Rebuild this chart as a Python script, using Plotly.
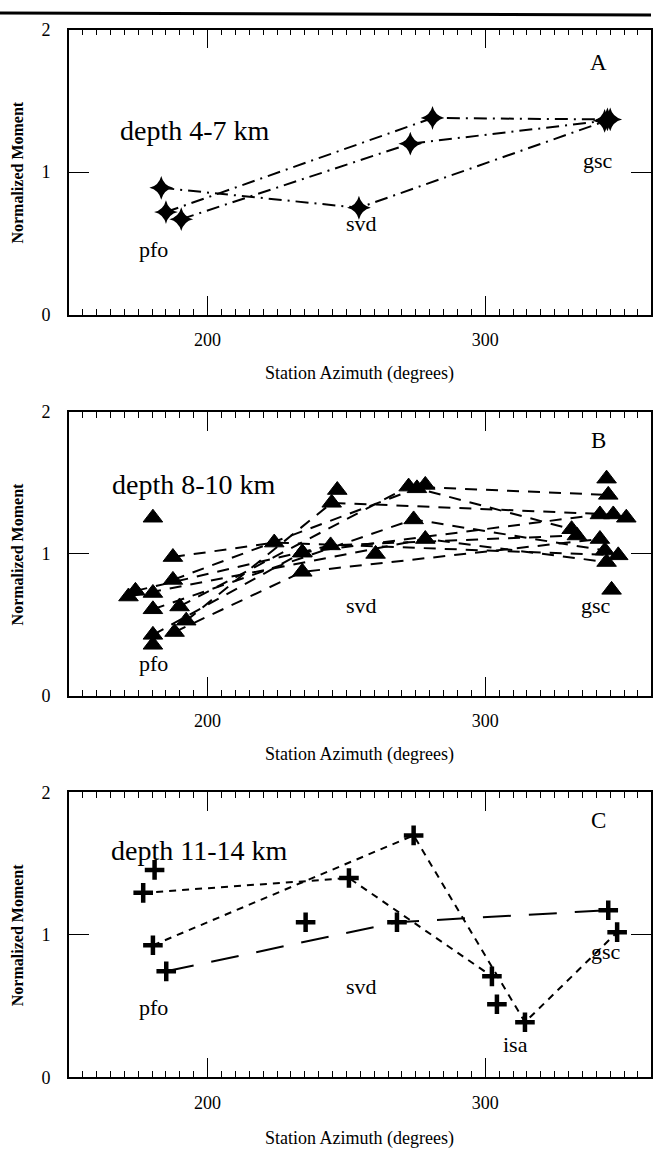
import plotly.graph_objects as go

W, H = 653, 1157
FONT = "Liberation Serif, Times New Roman, serif"

# ---------------- data ----------------
# Panel A (depth 4-7 km): three events, stations pfo / svd-ish / gsc
a_azimuth = [
    [183.3, 254.5, 345.0],
    [185.0, 281.0, 344.0],
    [190.5, 273.0, 343.0],
]
a_moment = [
    [0.89, 0.75, 1.37],
    [0.72, 1.38, 1.37],
    [0.67, 1.20, 1.36],
]

# Panel B (depth 8-10 km): connected events
b_azimuth = [
    [188.1, 234.1, 341.3],
    [192.3, 244.7, 346.1],
    [189.9, 272.4, 344.3],
    [187.5, 275.4, 331.1],
    [180.3, 274.2, 343.1],
    [174.0, 244.3, 333.0],
    [187.5, 224.0, 347.9],
    [180.3, 234.1, 341.3],
    [171.5, 278.4, 343.7],
]
b_moment = [
    [0.45, 0.874, 1.105],
    [0.53, 1.36, 1.278],
    [0.63, 1.474, 1.416],
    [0.817, 1.462, 1.174],
    [0.61, 1.243, 1.024],
    [0.74, 1.06, 1.13],
    [0.978, 1.08, 0.99],
    [0.43, 1.01, 1.278],
    [0.70, 1.105, 0.943],
]
# Panel B isolated measurements
b_single_azimuth = [180.3, 180.3, 180.3, 246.7, 260.5, 278.4, 343.7, 350.8, 345.5, 234.1]
b_single_moment = [1.255, 0.36, 0.725, 1.45, 1.00, 1.486, 1.53, 1.255, 0.747, 1.01]

# Panel C (depth 11-14 km)
c_long_azimuth = [185.1, 268.2, 344.3]
c_long_moment = [0.743, 1.088, 1.172]
c_short_azimuth = [
    [176.8, 250.9, 302.4],
    [180.3, 274.2, 314.3, 347.5],
]
c_short_moment = [
    [1.294, 1.398, 0.708],
    [0.926, 1.697, 0.386, 1.018],
]
c_single_azimuth = [180.9, 235.3, 304.2]
c_single_moment = [1.455, 1.088, 0.512]

x_ticks = [200, 300]
y_ticks = [0, 1, 2]

# ---------------- figure ----------------
fig = go.Figure()

star = dict(symbol="star-diamond", size=17, color="black", line=dict(width=0))
tri = dict(symbol="triangle-up", size=17, color="black", line=dict(width=1, color="black"))
plus = dict(symbol="cross-thin", size=14, color="black", line=dict(width=4.5, color="black"))

for xs, ys in zip(a_azimuth, a_moment):
    fig.add_trace(go.Scatter(x=xs, y=ys, mode="lines+markers", xaxis="x", yaxis="y",
                             line=dict(color="black", width=2, dash="13px,6px,2px,6px"),
                             marker=star, showlegend=False))

for xs, ys in zip(b_azimuth, b_moment):
    fig.add_trace(go.Scatter(x=xs, y=ys, mode="lines+markers", xaxis="x2", yaxis="y2",
                             line=dict(color="black", width=2, dash="12px,9px"),
                             marker=tri, showlegend=False))
fig.add_trace(go.Scatter(x=b_single_azimuth, y=b_single_moment, mode="markers",
                         xaxis="x2", yaxis="y2", marker=tri, showlegend=False))

fig.add_trace(go.Scatter(x=c_long_azimuth, y=c_long_moment, mode="lines+markers",
                         xaxis="x3", yaxis="y3",
                         line=dict(color="black", width=2, dash="28px,18px"),
                         marker=plus, showlegend=False))
for xs, ys in zip(c_short_azimuth, c_short_moment):
    fig.add_trace(go.Scatter(x=xs, y=ys, mode="lines+markers", xaxis="x3", yaxis="y3",
                             line=dict(color="black", width=2, dash="7px,6px"),
                             marker=plus, showlegend=False))
fig.add_trace(go.Scatter(x=c_single_azimuth, y=c_single_moment, mode="markers",
                         xaxis="x3", yaxis="y3", marker=plus, showlegend=False))

# ---------------- axes ----------------
panels = [(20, 310), (409, 698), (796, 1086)]
x_dom = [69 / W, 1.0]
x_range = [150, 150 + (W - 69) / 2.785]

layout = dict(
    width=W, height=H,
    margin=dict(l=0, r=0, t=0, b=0),
    paper_bgcolor="white", plot_bgcolor="white",
    font=dict(family=FONT, color="black"),
    showlegend=False,
)

for i, (top, bot) in enumerate(panels):
    sfx = "" if i == 0 else str(i + 1)
    layout["xaxis" + sfx] = dict(
        domain=x_dom, range=x_range, anchor="y" + sfx,
        showline=True, linecolor="black", linewidth=1.5, mirror="allticks",
        ticks="inside", ticklen=19, tickwidth=1.3, tickcolor="black",
        tickmode="array", tickvals=x_ticks, ticktext=[str(v) for v in x_ticks],
        tickfont=dict(size=18, family=FONT), ticklabelstandoff=8,
        minor=dict(ticks="inside", ticklen=6, tickwidth=1, tickcolor="black",
                   tickmode="linear", tick0=150, dtick=5),
        showgrid=False, zeroline=False, fixedrange=True,
    )
    layout["yaxis" + sfx] = dict(
        domain=[(H - bot) / H, (H - top) / H], range=[0, 2], anchor="x" + sfx,
        showline=True, linecolor="black", linewidth=1.5, mirror="allticks",
        ticks="inside", ticklen=20, tickwidth=1.3, tickcolor="black",
        tickmode="array", tickvals=y_ticks, ticktext=[str(v) for v in y_ticks],
        tickfont=dict(size=18, family=FONT), ticklabelstandoff=13,
        showgrid=False, zeroline=False, fixedrange=True,
    )

fig.update_layout(**layout)

# ---------------- annotations ----------------
ann = []
def txt(text, x, y, xref, yref, size, angle=0):
    ann.append(dict(text=text, x=x, y=y, xref=xref, yref=yref, showarrow=False,
                    xanchor="center", yanchor="middle", textangle=angle,
                    font=dict(family=FONT, size=size, color="black")))

x_title_y = [370, 758, 1148]
for i, (top, bot) in enumerate(panels):
    txt("Station Azimuth (degrees)", (69 + W) / 2 / W, 1 - x_title_y[i] / H, "paper", "paper", 18)
    txt("<b>Normalized Moment</b>", 17.5 / W, 1 - ((top + bot) / 2) / H, "paper", "paper", 16, -90)

# Panel A labels
txt("A", 340.7, 1.77, "x", "y", 23)
txt("depth 4-7 km", 195.6, 1.29, "x", "y", 28)
txt("pfo", 180.5, 0.46, "x", "y", 22)
txt("svd", 255.6, 0.64, "x", "y", 22)
txt("gsc", 340.7, 1.08, "x", "y", 22)
# Panel B labels
txt("B", 340.7, 1.80, "x2", "y2", 23)
txt("depth 8-10 km", 195.2, 1.49, "x2", "y2", 28)
txt("pfo", 180.5, 0.23, "x2", "y2", 22)
txt("svd", 255.6, 0.64, "x2", "y2", 22)
txt("gsc", 340.0, 0.64, "x2", "y2", 22)
# Panel C labels
txt("C", 340.7, 1.80, "x3", "y3", 23)
txt("depth 11-14 km", 197.0, 1.59, "x3", "y3", 28)
txt("pfo", 180.5, 0.49, "x3", "y3", 22)
txt("svd", 255.6, 0.64, "x3", "y3", 22)
txt("gsc", 343.5, 0.88, "x3", "y3", 22)
txt("isa", 310.9, 0.23, "x3", "y3", 22)

fig.update_layout(annotations=ann)

# scanned page border at the very top
fig.add_shape(type="line", xref="paper", yref="paper", x0=0, x1=1,
              y0=1 - 3 / H, y1=1 - 5 / H, line=dict(color="black", width=3))

fig.write_html("out.html")
